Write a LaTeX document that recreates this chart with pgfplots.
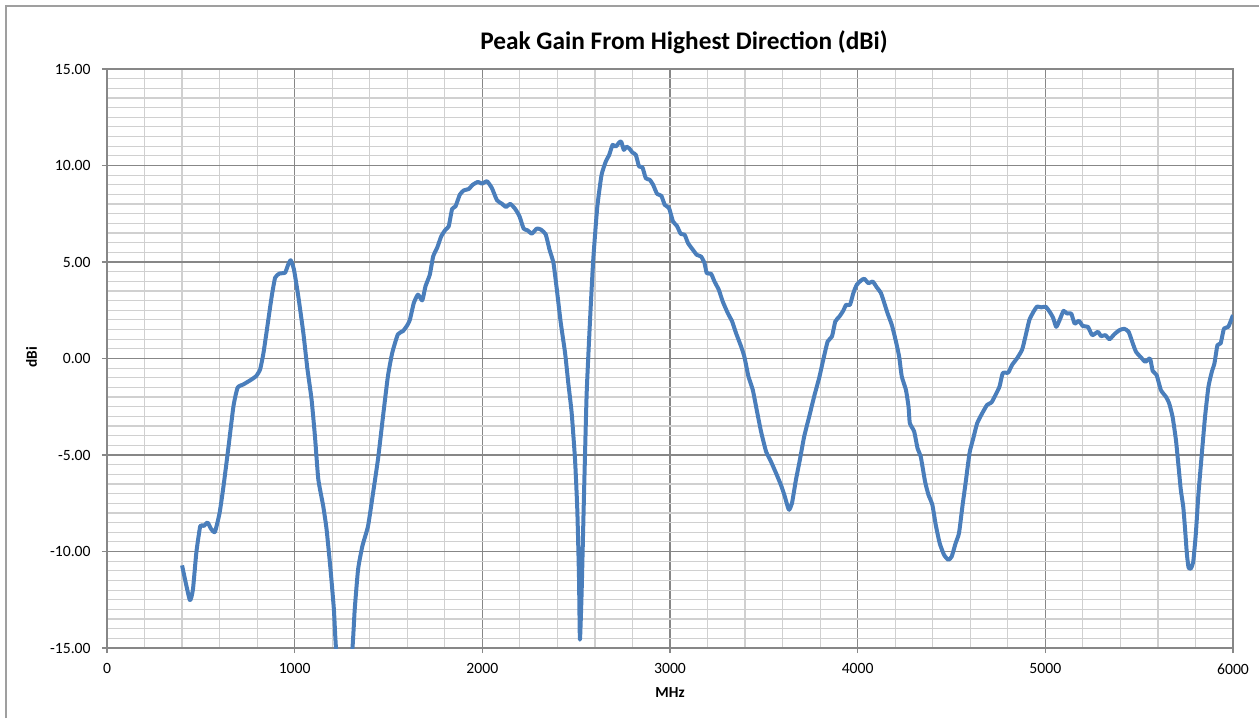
\documentclass[border=0pt]{standalone}
\usepackage{fontspec}
\setmainfont{Carlito}
\usepackage{pgfplots}
\pgfplotsset{compat=1.18}
\definecolor{curve}{HTML}{4A7EBB}
\definecolor{majorgrid}{HTML}{878787}
\definecolor{minorgrid}{HTML}{D0D0D0}
\begin{document}
\begin{tikzpicture}[x=1pt,y=1pt]
\begin{axis}[
  at={(80.25pt,52.5pt)}, anchor=south west,
  scale only axis, width=844.5pt, height=434.25pt,
  xmin=0, xmax=6000, ymin=-15, ymax=15,
  xtick={0,1000,...,6000}, ytick={-15,-10,...,15},
  minor x tick num=4, minor y tick num=9,
  grid=both,
  major grid style={majorgrid, line width=0.9pt},
  minor grid style={minorgrid, line width=0.9pt},
  axis line style={majorgrid, line width=0.9pt},
  every tick/.style={majorgrid, line width=0.9pt},
  major tick length=3.75pt, minor tick length=0pt,
  tick align=outside, tick pos=left,
  /pgf/number format/assume math mode=true,
  ticklabel style={font=\fontsize{11.75}{14}\selectfont},
  yticklabel style={xshift=-5pt, /pgf/number format/.cd, fixed, fixed zerofill, precision=2},
  xticklabel style={yshift=-4.5pt, /pgf/number format/.cd, 1000 sep={}},
  axis on top=false,
]
\addplot[curve, line width=3pt, smooth, tension=0.3, line join=round] coordinates {
(400,-10.72) (441,-12.51) (458,-11.96) (476,-10.06) (497,-8.68) (515,-8.68) (536,-8.5)
(554,-8.82) (575,-8.99) (600,-8.0) (621,-6.6) (648,-4.53) (674,-2.46) (696,-1.51)
(727,-1.34) (763,-1.13) (795,-0.91) (816,-0.56) (834,0.30) (860,2.03) (878,3.24)
(896,4.19) (919,4.40) (949,4.45) (966,4.88) (979,5.09) (996,4.62) (1019,3.24)
(1046,1.34) (1067,-0.47) (1090,-2.12) (1108,-4.02) (1126,-6.26) (1152,-7.64)
(1170,-8.85) (1191,-10.92) (1209,-13.0) (1220,-15.0) (1262,-20.5) (1308,-15.0)
(1320,-13) (1338,-10.92) (1361,-9.71) (1391,-8.68) (1418,-6.95) (1444,-5.22)
(1471,-2.98) (1497,-0.91) (1520,0.30) (1550,1.25) (1577,1.42) (1600,1.72)
(1614,2.01) (1635,2.88) (1657,3.31) (1680,3.01) (1697,3.74) (1720,4.34) (1738,5.29)
(1759,5.73) (1781,6.33) (1804,6.68) (1821,6.85) (1839,7.75) (1857,7.88) (1880,8.49)
(1901,8.71) (1927,8.78) (1950,9.01) (1977,9.15) (1998,9.06) (2025,9.18) (2051,8.83)
(2078,8.20) (2104,8.02) (2126,7.85) (2149,8.01) (2175,7.75) (2198,7.37) (2220,6.73)
(2241,6.64) (2264,6.47) (2290,6.73) (2312,6.68) (2338,6.42) (2358,5.64) (2379,4.95)
(2397,3.57) (2418,1.84) (2441,0.28) (2458,-1.27) (2476,-2.82) (2494,-5.24)
(2506,-7.83) (2515,-11.29) (2520,-14.57) (2529,-12.15) (2542,-6.97) (2556,-1.79)
(2574,2.01) (2591,5.12) (2612,7.8) (2635,9.5) (2658,10.21) (2676,10.55) (2694,11.07)
(2711,10.98) (2729,11.19) (2740,11.24) (2754,10.81) (2768,10.98) (2786,10.85)
(2800,10.67) (2818,10.55) (2835,9.95) (2853,9.91) (2871,9.34) (2892,9.26) (2910,9.0)
(2931,8.53) (2954,8.43) (2972,7.96) (2995,7.79) (3016,7.10) (3037,6.87) (3057,6.46)
(3078,6.41) (3096,5.98) (3122,5.63) (3143,5.37) (3166,5.28) (3184,4.94) (3196,4.42)
(3219,4.39) (3237,3.99) (3260,3.56) (3281,2.95) (3308,2.35) (3331,1.92) (3352,1.31)
(3379,0.62) (3396,0.10) (3418,-0.93) (3441,-1.62) (3462,-2.66) (3485,-3.78)
(3512,-4.82) (3538,-5.34) (3565,-5.94) (3591,-6.55) (3609,-7.06) (3627,-7.67)
(3635,-7.84) (3650,-7.50) (3671,-6.29) (3692,-5.25) (3715,-4.04) (3742,-3.0)
(3768,-1.97) (3795,-1.0) (3817,-0.05) (3840,0.88) (3863,1.14) (3881,1.92) (3903,2.18)
(3924,2.49) (3938,2.78) (3959,2.78) (3977,3.39) (3995,3.82) (4018,4.04) (4035,4.13)
(4058,3.90) (4080,3.99) (4101,3.70) (4124,3.39) (4142,2.87) (4159,2.35) (4182,1.74)
(4204,0.88) (4221,0.10) (4235,-0.93) (4257,-1.62) (4271,-2.49) (4278,-3.35)
(4301,-3.78) (4319,-4.65) (4336,-5.08) (4359,-6.37) (4377,-7.06) (4398,-7.58)
(4416,-8.62) (4437,-9.57) (4460,-10.17) (4483,-10.43) (4501,-10.26) (4522,-9.57)
(4540,-9.05) (4558,-7.67) (4575,-6.46) (4596,-4.90) (4614,-4.21) (4637,-3.35)
(4664,-2.83) (4690,-2.40) (4713,-2.28) (4735,-1.88) (4756,-1.45) (4773,-0.76)
(4802,-0.73) (4823,-0.33) (4850,0.02) (4876,0.45) (4894,1.14) (4915,2.0) (4938,2.44)
(4956,2.69) (4979,2.65) (5002,2.68) (5023,2.42) (5041,2.12) (5058,1.64) (5076,1.99)
(5097,2.47) (5115,2.33) (5138,2.33) (5156,1.81) (5179,1.95) (5200,1.68) (5227,1.64)
(5250,1.21) (5280,1.38) (5297,1.16) (5320,1.21) (5342,1.0) (5368,1.26) (5395,1.47)
(5421,1.54) (5444,1.38) (5466,0.78) (5483,0.35) (5510,0.05) (5533,-0.17) (5558,0.0)
(5572,-0.64) (5593,-0.86) (5616,-1.64) (5643,-1.99) (5660,-2.33) (5678,-3.02)
(5696,-4.23) (5710,-5.61) (5722,-6.82) (5735,-7.69) (5745,-8.89) (5754,-10.10)
(5763,-10.83) (5775,-10.88) (5788,-10.54) (5802,-9.07) (5816,-7.0) (5834,-4.92)
(5851,-3.02) (5869,-1.47) (5887,-0.69) (5901,-0.26) (5917,0.69) (5934,0.78)
(5952,1.55) (5975,1.64) (6000,2.25)
};
\end{axis}
\node[font={\fontsize{19}{22}\selectfont\bfseries}] at (513,507) {Peak Gain From Highest Direction (dBi)};
\node[font={\fontsize{11.5}{14}\selectfont\bfseries}, rotate=90] at (23.6,270.75) {dBi};
\node[font={\fontsize{11.5}{14}\selectfont\bfseries}] at (502.5,18.75) {MHz};
\draw[color=majorgrid!80, line width=0.9pt] (4.5,0) -- (4.5,534) -- (944.25,534);
\pgfresetboundingbox
\path[use as bounding box] (0,0) rectangle (944.25,538.5);
\end{tikzpicture}
\end{document}
